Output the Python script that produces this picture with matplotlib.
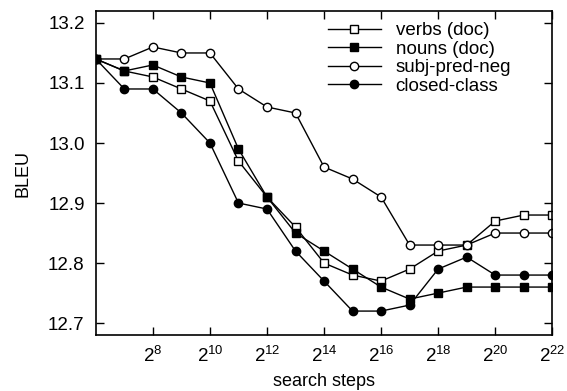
import numpy as np
import matplotlib
matplotlib.use('Agg')
import matplotlib.pyplot as plt

plt.rcParams['font.family'] = ['Liberation Sans', 'DejaVu Sans']
plt.rcParams['mathtext.fontset'] = 'custom'
plt.rcParams['mathtext.rm'] = 'Liberation Sans'
plt.rcParams['mathtext.it'] = 'Liberation Sans'

# search steps as powers of two
exponents = list(range(6, 23))
verbs_doc = [13.14, 13.12, 13.11, 13.09, 13.07, 12.97, 12.91, 12.86, 12.80,
             12.78, 12.77, 12.79, 12.82, 12.83, 12.87, 12.88, 12.88]
nouns_doc = [13.14, 13.12, 13.13, 13.11, 13.10, 12.99, 12.91, 12.85, 12.82,
             12.79, 12.76, 12.74, 12.75, 12.76, 12.76, 12.76, 12.76]
subj_pred_neg = [13.14, 13.14, 13.16, 13.15, 13.15, 13.09, 13.06, 13.05, 12.96,
                 12.94, 12.91, 12.83, 12.83, 12.83, 12.85, 12.85, 12.85]
closed_class = [13.14, 13.09, 13.09, 13.05, 13.00, 12.90, 12.89, 12.82, 12.77,
                12.72, 12.72, 12.73, 12.79, 12.81, 12.78, 12.78, 12.78]
xtick_exps = list(range(8, 23, 2))
yticks = [12.7, 12.8, 12.9, 13.0, 13.1, 13.2]

steps = [2 ** e for e in exponents]

fig = plt.figure(figsize=(5.67, 3.91), dpi=100)
ax = fig.add_axes([0.169, 0.143, 0.805, 0.829])

ax.plot(steps, verbs_doc, color='black', lw=1, marker='s', ms=6,
        mfc='white', mec='black', mew=1, label='verbs (doc)')
ax.plot(steps, nouns_doc, color='black', lw=1, marker='s', ms=6,
        mfc='black', mec='black', label='nouns (doc)')
ax.plot(steps, subj_pred_neg, color='black', lw=1, marker='o', ms=6,
        mfc='white', mec='black', mew=1, label='subj-pred-neg')
ax.plot(steps, closed_class, color='black', lw=1, marker='o', ms=6,
        mfc='black', mec='black', label='closed-class')

ax.set_xscale('log', base=2)
ax.set_xlim(2 ** 6, 2 ** 22)
ax.set_ylim(12.68, 13.22)
ax.set_xticks([2 ** e for e in xtick_exps])
ax.set_xticklabels([r'$2^{%d}$' % e for e in xtick_exps])
ax.xaxis.set_minor_locator(matplotlib.ticker.NullLocator())
ax.set_yticks(yticks)
ax.set_yticklabels(['%.1f' % v for v in yticks])
ax.tick_params(direction='in', length=6, width=1, top=True, right=True,
               labelsize=13.5, pad=8)
for s in ax.spines.values():
    s.set_linewidth(1.2)

ax.set_xlabel('search steps', fontsize=13, labelpad=5)
ax.set_ylabel('BLEU', fontsize=13, labelpad=12)

ax.legend(loc='upper left', bbox_to_anchor=(328 / 567, 1 - 22 / 391),
          bbox_transform=fig.transFigure, frameon=False, borderpad=0,
          borderaxespad=0, fontsize=13.5, handlelength=2.8, handletextpad=0.8,
          labelspacing=0.08)

fig.savefig('out.png', dpi=100)
